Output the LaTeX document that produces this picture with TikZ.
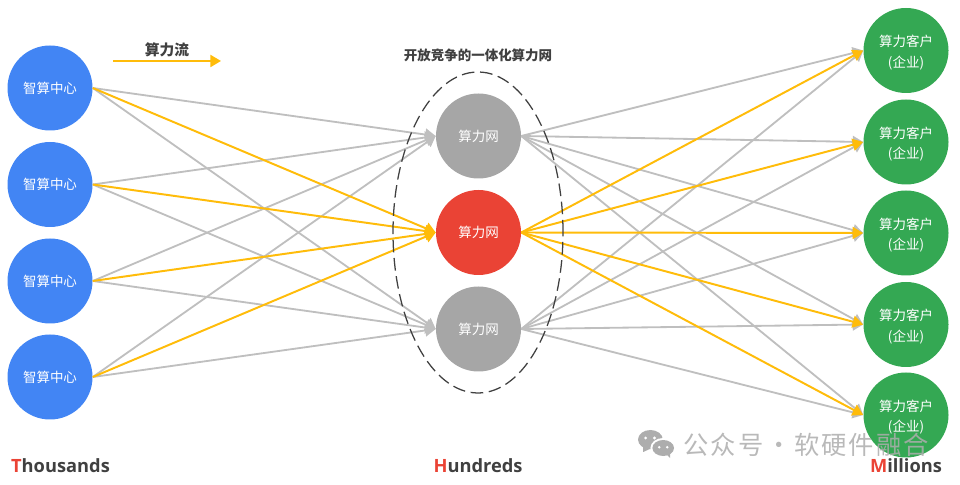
\documentclass[tikz,border=0pt]{standalone}
\usepackage{fontspec}
\setmainfont{Noto Sans CJK SC}
\newfontfamily\latinfont{Open Sans}
\usetikzlibrary{arrows.meta}
\definecolor{dcblue}{HTML}{4285F4}
\definecolor{netred}{HTML}{EA4335}
\definecolor{netgray}{HTML}{A6A6A6}
\definecolor{usergreen}{HTML}{34A853}
\definecolor{flowgold}{HTML}{FFBC0A}
\definecolor{linegray}{HTML}{BFBFBF}
\definecolor{inkgray}{HTML}{404040}
\definecolor{markgray}{HTML}{ADADAD}
\newcommand{\userlabel}{\rule{0pt}{11.3pt}算力客户\\(企业)}
\tikzset{
  hub/.style={circle,minimum size=2.125cm,inner sep=0pt,text=white,align=center,
    font=\fontsize{9.6pt}{14.4pt}\selectfont},
  grayflow/.style={draw=linegray,line width=1.3pt,-{Triangle[length=7.5pt,width=8.5pt]}},
  goldflow/.style={draw=flowgold,line width=1.4pt,-{Triangle[length=7.5pt,width=8.5pt]}},
  heading/.style={text=inkgray,font=\fontsize{9.6pt}{12pt}\selectfont\bfseries},
  scalelabel/.style={text=inkgray,font=\latinfont\fontsize{13pt}{15pt}\selectfont\bfseries},
  marktext/.style={text=markgray,opacity=.85,inner sep=0pt,font=\fontsize{18pt}{20pt}\selectfont}
}
\begin{document}
\begin{tikzpicture}

\useasboundingbox (0,0) rectangle (24,12.1);

% data centres
\node[hub,fill=dcblue] (dc1) at (1.25,9.9) {智算中心};
\node[hub,fill=dcblue] (dc2) at (1.25,7.4875) {智算中心};
\node[hub,fill=dcblue] (dc3) at (1.25,5.075) {智算中心};
\node[hub,fill=dcblue] (dc4) at (1.25,2.675) {智算中心};

% networks
\node[hub,fill=netgray] (net1) at (11.9625,8.7) {算力网};
\node[hub,fill=netred] (net2) at (11.9625,6.2875) {算力网};
\node[hub,fill=netgray] (net3) at (11.9625,3.875) {算力网};

% customers
\node[hub,fill=usergreen] (user1) at (22.65,10.8375) {\userlabel};
\node[hub,fill=usergreen] (user2) at (22.65,8.55) {\userlabel};
\node[hub,fill=usergreen] (user3) at (22.65,6.275) {\userlabel};
\node[hub,fill=usergreen] (user4) at (22.65,3.9875) {\userlabel};
\node[hub,fill=usergreen] (user5) at (22.65,1.725) {\userlabel};

% flows
\foreach \d in {1,2,3,4} {
  \draw[grayflow] (dc\d.east) -- (net1.west);
  \draw[grayflow] (dc\d.east) -- (net3.west);
}
\foreach \u in {1,2,3,4,5} {
  \draw[grayflow] (net1.east) -- (user\u.west);
  \draw[grayflow] (net3.east) -- (user\u.west);
}
\foreach \d in {1,2,3,4}
  \draw[goldflow] (dc\d.east) -- (net2.west);
\foreach \u in {1,2,3,4,5}
  \draw[goldflow] (net2.east) -- (user\u.west);

% outline
\draw[inkgray,line width=.9pt,dash pattern=on 9pt off 4pt] (11.95,6.2875) ellipse (2.125 and 4.0125);

% legend
\coordinate (flowstart) at (2.825,10.575);
\coordinate (flowend) at (5.525,10.575);
\draw[goldflow] (flowstart) -- (flowend);
\node[heading,font=\fontsize{10.5pt}{12pt}\selectfont\bfseries] (flowlabel) at (4.175,10.85) {算力流};
\node[heading] (title) at (11.95,10.72) {开放竞争的一体化算力网};

% scales
\node[scalelabel] (thousands) at (1.5125,0.45) {\textcolor{netred}{T}housands};
\node[scalelabel] (hundreds) at (11.95,0.45) {\textcolor{netred}{H}undreds};
\node[scalelabel] (millions) at (22.65,0.45) {\textcolor{netred}{M}illions};

% watermark
\fill[markgray] (16.26,1.11) ellipse (.31 and .24) (16.08,1) -- (16.08,0.8) -- (16.3,0.9) -- cycle;
\fill[white] (16.58,0.9) ellipse (.32 and .25);
\fill[markgray] (16.58,0.9) ellipse (.27 and .2) (16.65,0.75) -- (16.75,0.65) -- (16.75,0.8) -- cycle;
\fill[white] (16.14,1.15) circle (.04) (16.36,1.15) circle (.04) (16.48,0.92) circle (.035) (16.68,0.92) circle (.035);
\node[marktext,anchor=west] (wechat) at (17.08,0.98) {\addfontfeature{LetterSpace=8}公众号\hspace{-3.5pt} · \hspace{-3.5pt}软硬件融合};

\end{tikzpicture}
\end{document}
